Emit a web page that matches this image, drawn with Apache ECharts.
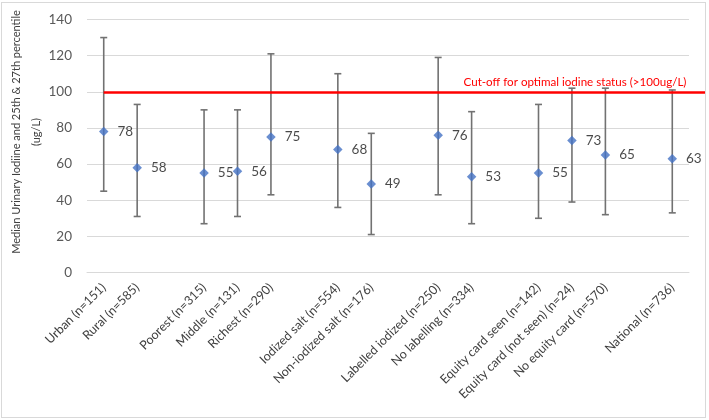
<!DOCTYPE html>
<html>
<head>
<meta charset="utf-8">
<script src="https://cdn.jsdelivr.net/npm/echarts@6/dist/echarts.min.js"></script>
<style>
html,body{margin:0;padding:0;background:#fff;}
#wrap{position:relative;width:709px;height:420px;}
#chart{position:absolute;left:0;top:0;width:709px;height:420px;}
#frame{position:absolute;left:1px;top:2px;width:703px;height:414px;border:1px solid #d9d9d9;pointer-events:none;}
</style>
</head>
<body>
<div id="wrap"><div id="chart"></div><div id="frame"></div></div>
<script>
const categories = [
  'Urban (n=151)', 'Rural (n=585)', '',
  'Poorest (n=315)', 'Middle (n=131)', 'Richest (n=290)', '',
  'Iodized salt (n=554)', 'Non-iodized salt (n=176)', '',
  'Labelled iodized (n=250)', 'No labelling (n=334)', '',
  'Equity card seen (n=142)', 'Equity card (not seen) (n=24)', 'No equity card (n=570)', '',
  'National (n=736)'
];
const medians = [78, 58, null, 55, 56, 75, null, 68, 49, null, 76, 53, null, 55, 73, 65, null, 63];
const p25 =     [45, 31, null, 27, 31, 43, null, 36, 21, null, 43, 27, null, 30, 39, 32, null, 33];
const p75 =     [130, 93, null, 90, 90, 121, null, 110, 77, null, 119, 89, null, 93, 102, 102, null, 101];
const yTicks = [0, 20, 40, 60, 80, 100, 120, 140];
const cutoff = 100;
const cutoffLabel = 'Cut-off for optimal iodine status (>100ug/L)';
const yName = 'Median Urinary Iodiine and 25th & 27th percentile\n(ug/L)';

const FONT = 'Lato, "Noto Sans", sans-serif';
const medianData = [];
const barData = [];
medians.forEach((v, i) => {
  if (v != null) medianData.push([i, v]);
  if (p25[i] != null) barData.push([i, p25[i], p75[i]]);
});

const chart = echarts.init(document.getElementById('chart'), null, {renderer: 'canvas'});
chart.setOption({
  animation: false,
  backgroundColor: '#fff',
  textStyle: {fontFamily: FONT},
  grid: {left: 87, right: 20, top: 19.5, bottom: 147.5, containLabel: false, outerBoundsMode: 'none'},
  xAxis: {
    type: 'category',
    data: categories,
    boundaryGap: true,
    axisLine: {show: true, lineStyle: {color: '#d9d9d9', width: 1}},
    axisTick: {show: false},
    axisLabel: {interval: 0, rotate: 45, margin: 13, fontSize: 12.5, color: '#404040', fontFamily: FONT},
    splitLine: {show: false}
  },
  yAxis: {
    type: 'value',
    min: yTicks[0],
    max: yTicks[yTicks.length - 1],
    interval: 20,
    name: yName,
    nameLocation: 'middle',
    nameGap: 41,
    nameMoveOverlap: false,
    nameTextStyle: {fontSize: 11, color: '#404040', lineHeight: 20, fontFamily: FONT, padding: [0, 0, 0, 28]},
    axisLine: {show: false},
    axisTick: {show: false},
    axisLabel: {fontSize: 13.5, color: '#595959', margin: 15, fontFamily: FONT},
    splitLine: {lineStyle: {color: '#d9d9d9', width: 1}}
  },
  series: [
    {
      type: 'custom',
      name: 'range',
      z: 2,
      renderItem: function (params, api) {
        const x = api.value(0);
        const lo = api.coord([x, api.value(1)]);
        const hi = api.coord([x, api.value(2)]);
        const cap = 3.5;
        const style = {stroke: '#727272', lineWidth: 1.6};
        return {
          type: 'group',
          children: [
            {type: 'line', shape: {x1: lo[0], y1: lo[1], x2: hi[0], y2: hi[1]}, style: style},
            {type: 'line', shape: {x1: lo[0] - cap, y1: lo[1], x2: lo[0] + cap, y2: lo[1]}, style: style},
            {type: 'line', shape: {x1: hi[0] - cap, y1: hi[1], x2: hi[0] + cap, y2: hi[1]}, style: style}
          ]
        };
      },
      encode: {x: 0, y: [1, 2]},
      data: barData
    },
    {
      type: 'scatter',
      name: 'median',
      z: 5,
      symbol: 'diamond',
      symbolSize: 9.5,
      itemStyle: {color: '#4472C4'},
      label: {show: true, position: 'right', distance: 9, fontSize: 13.5, color: '#1a1a1a', fontFamily: FONT,
        formatter: p => p.value[1]},
      data: medianData,
      markLine: {
        silent: true,
        symbol: 'none',
        z: 4,
        lineStyle: {color: '#ff0000', width: 2.6, type: 'solid'},
        label: {show: true, position: 'insideEndTop', distance: [19, 4], formatter: cutoffLabel,
          color: '#ff0000', fontSize: 11.6, fontFamily: FONT},
        data: [[
          {xAxis: 0, yAxis: cutoff},
          {xAxis: categories.length - 1, yAxis: cutoff, x: '99.5%'}
        ]]
      }
    }
  ]
});
</script>
</body>
</html>
